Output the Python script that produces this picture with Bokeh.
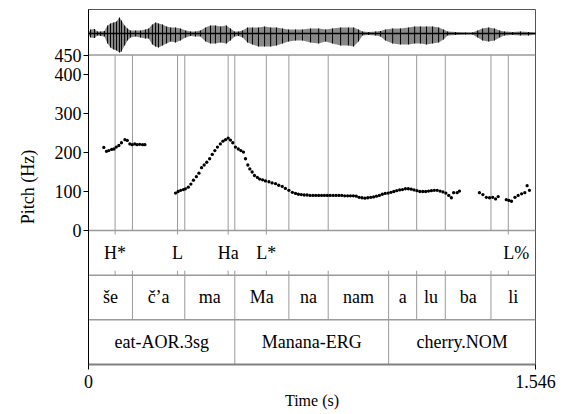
from bokeh.plotting import figure
from bokeh.models import Range1d, FixedTicker, Title
from bokeh.core.properties import value
from bokeh.embed import file_html
from bokeh.resources import INLINE

DURATION = 1.546

# ---- pitch track (s, Hz) ----
pitch_t1 = [0.053, 0.062, 0.070, 0.080, 0.088, 0.096, 0.105, 0.114, 0.126, 0.134, 0.143, 0.151, 0.160, 0.168, 0.177, 0.187, 0.195]
pitch_f1 = [213, 203, 205, 208, 209, 214, 218, 225, 233, 231, 222, 220, 222, 220, 221, 220, 220]
pitch_t2 = [0.301, 0.310, 0.319, 0.328, 0.335, 0.345, 0.354, 0.363, 0.373, 0.382, 0.391, 0.400, 0.409, 0.419, 0.428, 0.437, 0.446, 0.456, 0.465, 0.474, 0.483, 0.491, 0.499, 0.508, 0.518, 0.527, 0.536]
pitch_f2 = [96, 100, 103, 105, 107, 111, 119, 129, 138, 147, 161, 168, 175, 184, 195, 205, 214, 222, 229, 233, 237, 232, 225, 214, 209, 205, 201]
pitch_t3 = [0.543, 0.551, 0.558, 0.566, 0.574, 0.584, 0.592, 0.602, 0.612, 0.624, 0.635, 0.647, 0.658, 0.670, 0.681, 0.693, 0.705]
pitch_f3 = [184, 168, 158, 150, 141, 136, 132, 130, 127, 125, 122, 120, 116, 113, 108, 103, 98]
pitch_t4 = [0.716, 0.726, 0.736, 0.746, 0.756, 0.766, 0.776, 0.786, 0.796, 0.806, 0.816, 0.826, 0.836, 0.846, 0.856, 0.866, 0.876, 0.886, 0.896, 0.906, 0.916, 0.926, 0.936, 0.946, 0.956, 0.966, 0.976, 0.986, 0.996, 1.006, 1.016, 1.026, 1.036, 1.046, 1.056, 1.066, 1.076, 1.086, 1.096, 1.106, 1.116, 1.126, 1.136, 1.146, 1.156, 1.166, 1.176, 1.186, 1.196, 1.206, 1.216, 1.226, 1.236, 1.246, 1.255]
pitch_f4 = [95, 93, 92, 91, 91, 90, 90, 90, 90, 90, 90, 90, 90, 90, 90, 90, 90, 89, 89, 89, 89, 88, 85, 84, 83, 84, 85, 86, 88, 90, 93, 95, 96, 98, 100, 102, 104, 105, 107, 107, 106, 104, 102, 100, 100, 100, 101, 102, 103, 103, 101, 99, 96, 90, 84]
pitch_t5 = [1.263, 1.275, 1.283, 1.352, 1.364, 1.376, 1.387, 1.398, 1.408, 1.417, 1.445, 1.454, 1.463, 1.475, 1.486, 1.498, 1.509, 1.517, 1.525]
pitch_f5 = [97, 97, 101, 97, 92, 85, 84, 85, 81, 87, 79, 77, 75, 85, 90, 94, 97, 115, 103]

# ---- waveform envelope (s, amplitude up / down, arbitrary units) ----
wave_t = [0.000, 0.007, 0.021, 0.031, 0.042, 0.055, 0.066, 0.076, 0.087, 0.097, 0.107, 0.114, 0.125, 0.135, 0.145, 0.163, 0.180, 0.197, 0.208, 0.221, 0.232, 0.242, 0.256, 0.270, 0.284, 0.301, 0.318, 0.336, 0.353, 0.370, 0.387, 0.405, 0.422, 0.439, 0.457, 0.477, 0.491, 0.505, 0.519, 0.533, 0.550, 0.567, 0.588, 0.609, 0.630, 0.650, 0.671, 0.692, 0.716, 0.740, 0.768, 0.796, 0.820, 0.844, 0.872, 0.899, 0.917, 0.934, 0.948, 0.969, 0.993, 1.010, 1.027, 1.052, 1.079, 1.107, 1.128, 1.148, 1.169, 1.190, 1.211, 1.228, 1.242, 1.269, 1.304, 1.328, 1.346, 1.363, 1.384, 1.404, 1.422, 1.439, 1.467, 1.494, 1.522, 1.546]
wave_up = [1, 4, 4.5, 2, 2, 2.5, 8, 10, 11, 12, 16, 13, 8, 5, 3, 3, 3, 4, 5, 9, 11, 10, 9, 7, 6, 6, 5, 3, 2, 2, 3, 6, 8, 8, 7, 8, 5, 2, 2, 3, 6, 6, 6, 7, 6, 6, 5, 4, 4, 4, 5, 5, 4, 5, 6, 6, 6, 4, 2, 1.5, 2, 2.5, 4, 5, 5, 6, 7, 7, 7, 7, 6, 4, 2, 1.5, 1, 1, 3, 5, 6, 5, 3, 2, 1.5, 2, 1.5, 1]
wave_dn = [1, 4, 4.5, 2, 2.5, 3, 10, 14, 16, 17, 19, 18, 12, 7, 4, 3, 4, 5, 5, 11, 13, 14, 12, 10, 8, 9, 7, 4, 2.5, 3, 3, 8, 10, 10, 9, 10, 7, 3, 2.5, 4, 9, 11, 13, 13, 13, 12, 10, 8, 7, 7, 9, 10, 8, 10, 12, 12, 13, 8, 2, 1.5, 2, 3, 7, 10, 11, 11, 10, 10, 11, 10, 9, 6, 2, 1.5, 1, 1, 4, 7, 8, 7, 4, 2, 1.5, 2, 2, 1]

# ---- tiers ----
tone_t = [0.092, 0.308, 0.483, 0.615, 1.452]
tone_lab = ["H*", "L", "Ha", "L*", "L%"]
syl_bounds = [0.0, 0.152, 0.333, 0.506, 0.693, 0.829, 1.038, 1.135, 1.234, 1.392, 1.546]
syl_lab = ["še", "č’a", "ma", "Ma", "na", "nam", "a", "lu", "ba", "li"]
word_bounds = [0.0, 0.506, 1.038, 1.546]
word_lab = ["eat-AOR.3sg", "Manana-ERG", "cherry.NOM"]

pitch_ticks = [0, 100, 200, 300, 400, 450]
time_ticks = [0, 1.546]

FONT = value("Liberation Serif")
GRAY = "#9a9a9a"

p = figure(frame_width=447, frame_height=355, min_border_left=88, min_border_right=24,
           min_border_top=9, min_border_bottom=50,
           x_range=Range1d(0, DURATION), y_range=Range1d(-343.6, 566.7),
           output_backend="svg", toolbar_location=None)
p.extra_y_ranges = {"wave": Range1d(-331, 24), "tier": Range1d(3.0, -4.947)}
p.grid.visible = False
p.outline_line_color = "#555555"
p.background_fill_color = "white"
p.border_fill_color = "white"

# axes
p.yaxis.ticker = FixedTicker(ticks=pitch_ticks)
p.yaxis.major_tick_in = 0
p.yaxis.major_tick_out = 5
p.yaxis.major_label_standoff = 2
p.yaxis.axis_line_color = "black"
p.yaxis.major_tick_line_color = "black"
p.yaxis.major_label_text_font = "Liberation Serif"
p.yaxis.major_label_text_font_size = "18px"
p.yaxis.major_label_text_color = "black"

p.xaxis.ticker = FixedTicker(ticks=time_ticks)
p.xaxis.major_label_overrides = {0: "0", 1.546: "1.546"}
p.xaxis.major_tick_in = 0
p.xaxis.major_tick_out = 5
p.xaxis.major_label_standoff = 5
p.xaxis.axis_line_color = "#808080"
p.xaxis.axis_line_width = 2
p.xaxis.major_tick_line_color = "black"
p.xaxis.major_label_text_font = "Liberation Serif"
p.xaxis.major_label_text_font_size = "18px"
p.xaxis.major_label_text_color = "black"
p.xaxis.axis_label = "Time (s)"
p.xaxis.axis_label_standoff = 1
p.xaxis.axis_label_text_font = "Liberation Serif"
p.xaxis.axis_label_text_font_size = "16px"
p.xaxis.axis_label_text_font_style = "normal"
p.xaxis.axis_label_text_color = "black"

p.add_layout(Title(text="Pitch (Hz)", align="center",
                   text_font="Liberation Serif", text_font_size="18px",
                   text_font_style="normal", text_color="black", standoff=28), "left")

# waveform
p.varea(x=wave_t, y1=wave_up, y2=[-d for d in wave_dn], y_range_name="wave",
        fill_color="#555555", fill_alpha=0.7)
p.segment(x0=wave_t, y0=wave_up, x1=wave_t, y1=[-d for d in wave_dn], y_range_name="wave",
          line_color="black", line_width=1)
p.line(x=[0, DURATION], y=[0, 0], y_range_name="wave", line_color="black", line_width=1.5)

# horizontal separators
p.segment(x0=[0, 0], y0=[450, 0], x1=[DURATION, DURATION], y1=[450, 0], line_color=GRAY, line_width=1.5)
p.segment(x0=[0, 0], y0=[1, 2], x1=[DURATION, DURATION], y1=[1, 2], y_range_name="tier",
          line_color=GRAY, line_width=1.5)

# vertical lines in pitch area
inner_syl = syl_bounds[1:-1]
all_marks = tone_t + inner_syl
p.segment(x0=all_marks, y0=[0] * len(all_marks), x1=all_marks, y1=[450] * len(all_marks),
          line_color=GRAY, line_width=1)
# ticks in tone tier
p.segment(x0=tone_t, y0=[0] * len(tone_t), x1=tone_t, y1=[0.09] * len(tone_t), y_range_name="tier",
          line_color=GRAY, line_width=1)
p.segment(x0=all_marks, y0=[0.9] * len(all_marks), x1=all_marks, y1=[1.0] * len(all_marks),
          y_range_name="tier", line_color=GRAY, line_width=1)
# syllable boundaries
p.segment(x0=inner_syl, y0=[1] * len(inner_syl), x1=inner_syl, y1=[2] * len(inner_syl),
          y_range_name="tier", line_color=GRAY, line_width=1)
inner_word = word_bounds[1:-1]
p.segment(x0=inner_word, y0=[2] * len(inner_word), x1=inner_word, y1=[3] * len(inner_word),
          y_range_name="tier", line_color=GRAY, line_width=1)

# pitch points
p.scatter(x=pitch_t1 + pitch_t2 + pitch_t3 + pitch_t4 + pitch_t5,
          y=pitch_f1 + pitch_f2 + pitch_f3 + pitch_f4 + pitch_f5,
          size=3.3, color="black", line_width=0)

# tier texts
txt = dict(text_font=FONT, text_font_size="18px", text_color="black",
           text_align="center", text_baseline="middle", y_range_name="tier")
p.text(x=tone_t[:-1], y=[0.5] * (len(tone_t) - 1), text=tone_lab[:-1], **txt)
p.text(x=tone_t[-1:], y=[0.5], text=tone_lab[-1:], x_offset=8, **txt)
syl_mid = [(a + b) / 2 for a, b in zip(syl_bounds[:-1], syl_bounds[1:])]
p.text(x=syl_mid, y=[1.5] * len(syl_mid), text=syl_lab, **txt)
word_mid = [(a + b) / 2 for a, b in zip(word_bounds[:-1], word_bounds[1:])]
p.text(x=word_mid, y=[2.5] * len(word_mid), text=word_lab, **txt)

open("out.html", "w").write(file_html(p, INLINE))
